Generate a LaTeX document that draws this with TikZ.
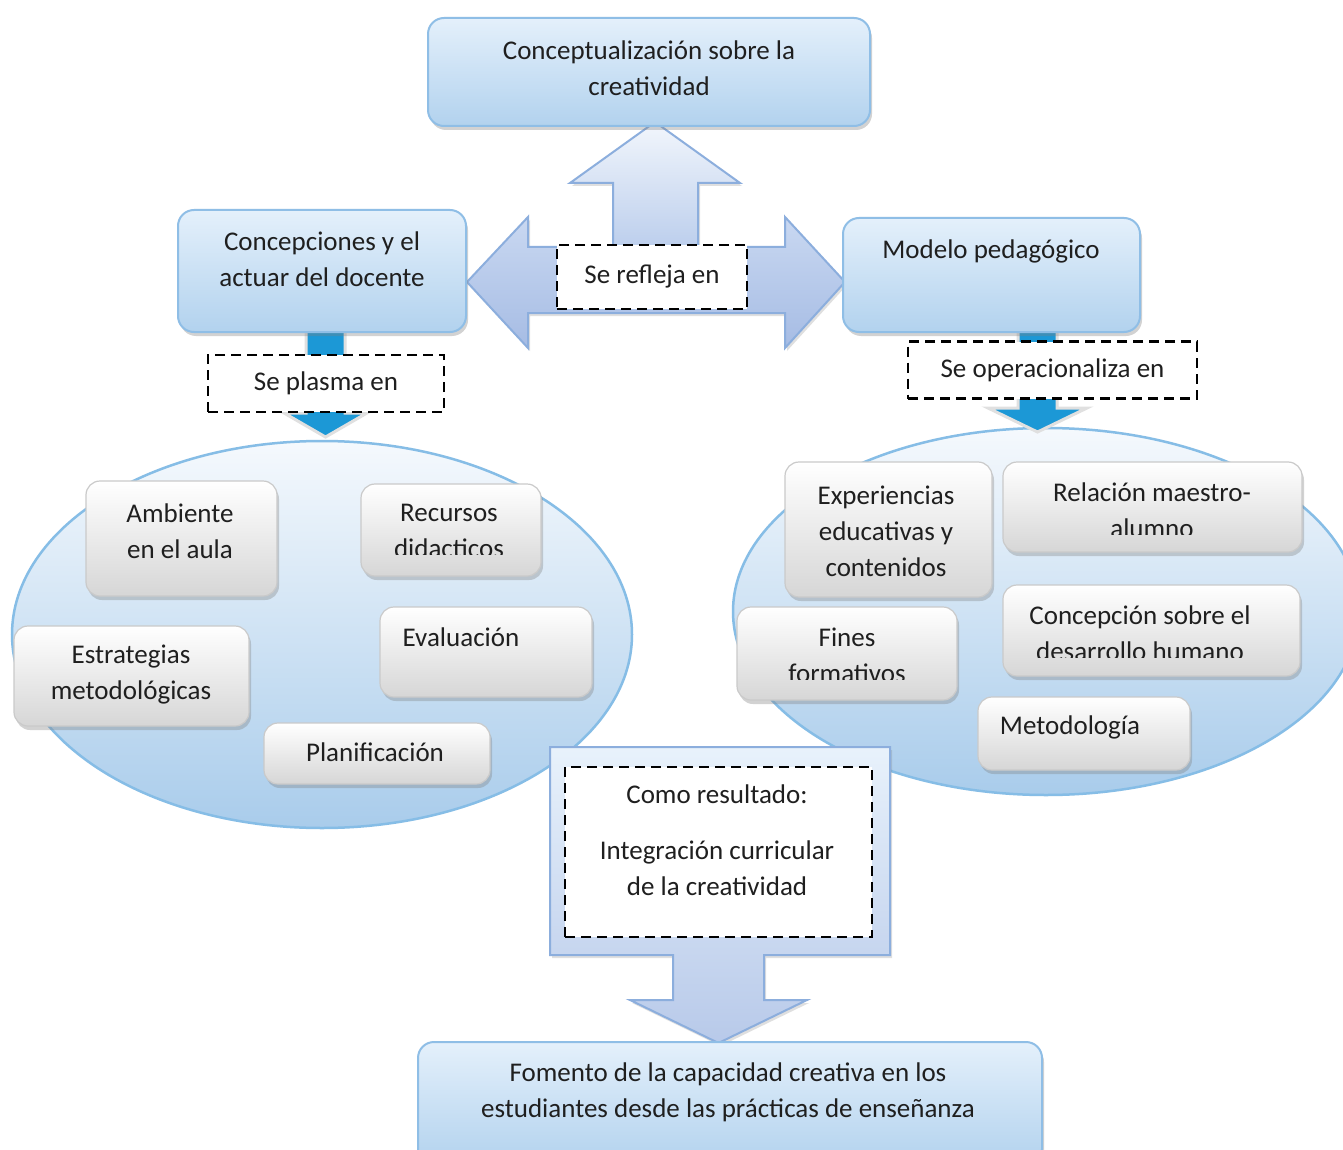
\documentclass[tikz,border=0pt]{standalone}
\usepackage{fontspec}
\setmainfont{Carlito}
\usetikzlibrary{shapes.geometric, shadows}

\definecolor{boxtop}{HTML}{E4F0FB}
\definecolor{boxbot}{HTML}{B2D2EE}
\definecolor{boxline}{HTML}{8FBEE6}
\definecolor{elltop}{HTML}{F5F9FD}
\definecolor{ellbot}{HTML}{A9CCEB}
\definecolor{ellline}{HTML}{86BDE6}
\definecolor{graybot}{HTML}{D6D6D6}
\definecolor{grayline}{HTML}{CACACA}
\definecolor{arrtop}{HTML}{F2F6FC}
\definecolor{arrbot}{HTML}{BACDEC}
\definecolor{arrline}{HTML}{8CAEDD}
\definecolor{hartop}{HTML}{C9D8F1}
\definecolor{harbot}{HTML}{A6BCE4}
\definecolor{linkblue}{HTML}{1C98D6}

\tikzstyle{bluebox} = [rectangle, rounded corners=16pt, draw=boxline, line width=2pt, top color=boxtop, bottom color=boxbot, drop shadow={shadow xshift=2pt, shadow yshift=-4pt, opacity=.35, fill=black!50}]
\tikzstyle{graybox} = [rectangle, rounded corners=14pt, draw=grayline, line width=1.2pt, top color=white, bottom color=graybot, drop shadow={shadow xshift=2pt, shadow yshift=-4pt, opacity=.35, fill=black!50}]
\tikzstyle{dashbox} = [rectangle, draw=black, fill=white, line width=2.8pt, dash pattern=on 10pt off 6pt]
\tikzstyle{cluster} = [ellipse, draw=ellline, line width=2.5pt, top color=elltop, bottom color=ellbot]
\tikzstyle{txt} = [align=center, inner sep=0pt, text=black!88, font=\fontsize{27pt}{36pt}\selectfont]
\tikzstyle{blockarrow} = [draw=arrline, line width=2pt, top color=arrtop, bottom color=arrbot, drop shadow={shadow xshift=2pt, shadow yshift=-3pt, opacity=.25, fill=black!50}]
\tikzstyle{link} = [fill=linkblue, draw=black!12, line width=3pt]

\begin{document}
\begin{tikzpicture}[x=1pt, y=-1pt]
\useasboundingbox (0,0) rectangle (1343,1150);
\fill[white] (0,0) rectangle (1343,1150);

% conjuntos
\node[cluster, minimum width=620pt, minimum height=387pt] (aula) at (322,634.5) {};
\node[cluster, minimum width=626pt, minimum height=367pt] (modelos) at (1046,611.5) {};

% enlaces hacia los conjuntos
\path[link] (306,328) -- (306,413) -- (284,413) -- (325.5,437) -- (367,413) -- (345,413) -- (345,328) -- cycle;
\path[link] (1018,328) -- (1018,408) -- (988,408) -- (1037.5,432) -- (1087,408) -- (1057,408) -- (1057,328) -- cycle;

% flechas centrales
\path[blockarrow] (613,252) -- (613,183) -- (570,183) -- (655,122) -- (740,183) -- (698,183) -- (698,252) -- cycle;
\path[blockarrow, top color=hartop, bottom color=harbot] (467,282) -- (528,217) -- (528,247) -- (785,247) -- (785,217) -- (845,282) -- (785,348) -- (785,313) -- (528,313) -- (528,348) -- cycle;

% cajas principales
\node[bluebox, minimum width=442pt, minimum height=108pt] (concepto) at (649,72) {};
\node[txt] (conceptotxt) at (649,68) {Conceptualización sobre la\\creatividad};

\node[bluebox, minimum width=288pt, minimum height=122pt] (docente) at (322,271) {};
\node[txt] (docentetxt) at (322,259.5) {Concepciones y el\\actuar del docente};

\node[bluebox, minimum width=297pt, minimum height=114pt] (modelo) at (991.5,275) {};
\node[txt] (modelotxt) at (991,251) {Modelo pedagógico};

% etiquetas punteadas
\node[dashbox, txt, minimum width=190pt, minimum height=64pt] (refleja) at (652,277) {Se refleja en};
\node[dashbox, txt, minimum width=236pt, minimum height=57pt] (plasma) at (326,383.5) {Se plasma en};
\node[dashbox, txt, minimum width=289pt, minimum height=57pt] (operac) at (1052.5,370) {Se operacionaliza en};

% elementos del aula
\node[graybox, minimum width=191pt, minimum height=115pt] (ambiente) at (181.5,538.5) {};
\node[txt] (ambientetxt) at (180,531) {Ambiente\\en el aula};
\node[graybox, minimum width=180pt, minimum height=92pt] (recursos) at (451,530) {};
\begin{scope}
\clip (361,480) rectangle (541,554.5);
\node[txt] (recursostxt) at (449,531) {Recursos\\didacticos};
\end{scope}
\node[graybox, minimum width=212pt, minimum height=90pt] (evaluacion) at (486,652) {};
\node[txt] (evaluaciontxt) at (461,637) {Evaluación};
\node[graybox, minimum width=235pt, minimum height=100pt] (estrategias) at (131.5,676) {};
\node[txt] (estrategiastxt) at (131,675) {Estrategias\\metodológicas};
\node[graybox, minimum width=226pt, minimum height=61pt] (planificacion) at (377,753.5) {};
\node[txt] (planificaciontxt) at (375,752) {Planificación};

% elementos del modelo
\node[graybox, minimum width=207pt, minimum height=135pt] (experiencias) at (888.5,529.5) {};
\node[txt] (experienciastxt) at (886,531) {Experiencias\\educativas y\\contenidos};
\node[graybox, minimum width=299pt, minimum height=90pt] (relacion) at (1152.5,507) {};
\begin{scope}
\clip (1003,460) rectangle (1302,534);
\node[txt] (relaciontxt) at (1152,510) {Relación maestro-\\alumno};
\end{scope}
\node[graybox, minimum width=220pt, minimum height=93pt] (fines) at (847,653.5) {};
\begin{scope}
\clip (737,600) rectangle (957,679);
\node[txt] (finestxt) at (847,655) {Fines\\formativos};
\end{scope}
\node[graybox, minimum width=297pt, minimum height=91pt] (desarrollo) at (1151.5,630.5) {};
\begin{scope}
\clip (1003,580) rectangle (1300,657);
\node[txt] (desarrollotxt) at (1140,633) {Concepción sobre el\\desarrollo humano};
\end{scope}
\node[graybox, minimum width=212pt, minimum height=73pt] (metodologia) at (1084,733.5) {};
\node[txt] (metodologiatxt) at (1070,727) {Metodología};

% resultado
\path[blockarrow, top color=boxtop!70!arrtop, bottom color=harbot!80!white] (550,747) -- (890,747) -- (890,955) -- (764,955) -- (764,1000) -- (807,1000) -- (718.5,1043) -- (630,1000) -- (673,1000) -- (673,955) -- (550,955) -- cycle;
\node[dashbox, minimum width=307pt, minimum height=170pt] (resultado) at (718.5,852) {};
\node[txt] (resultadotxt) at (717,840.5) {Como resultado:\\[20pt]Integración curricular\\de la creatividad};

\node[bluebox, minimum width=624pt, minimum height=123pt] (fomento) at (730,1103.5) {};
\node[txt] (fomentotxt) at (728,1092) {Fomento de la capacidad creativa en los\\estudiantes desde las prácticas de enseñanza};
\end{tikzpicture}
\end{document}
